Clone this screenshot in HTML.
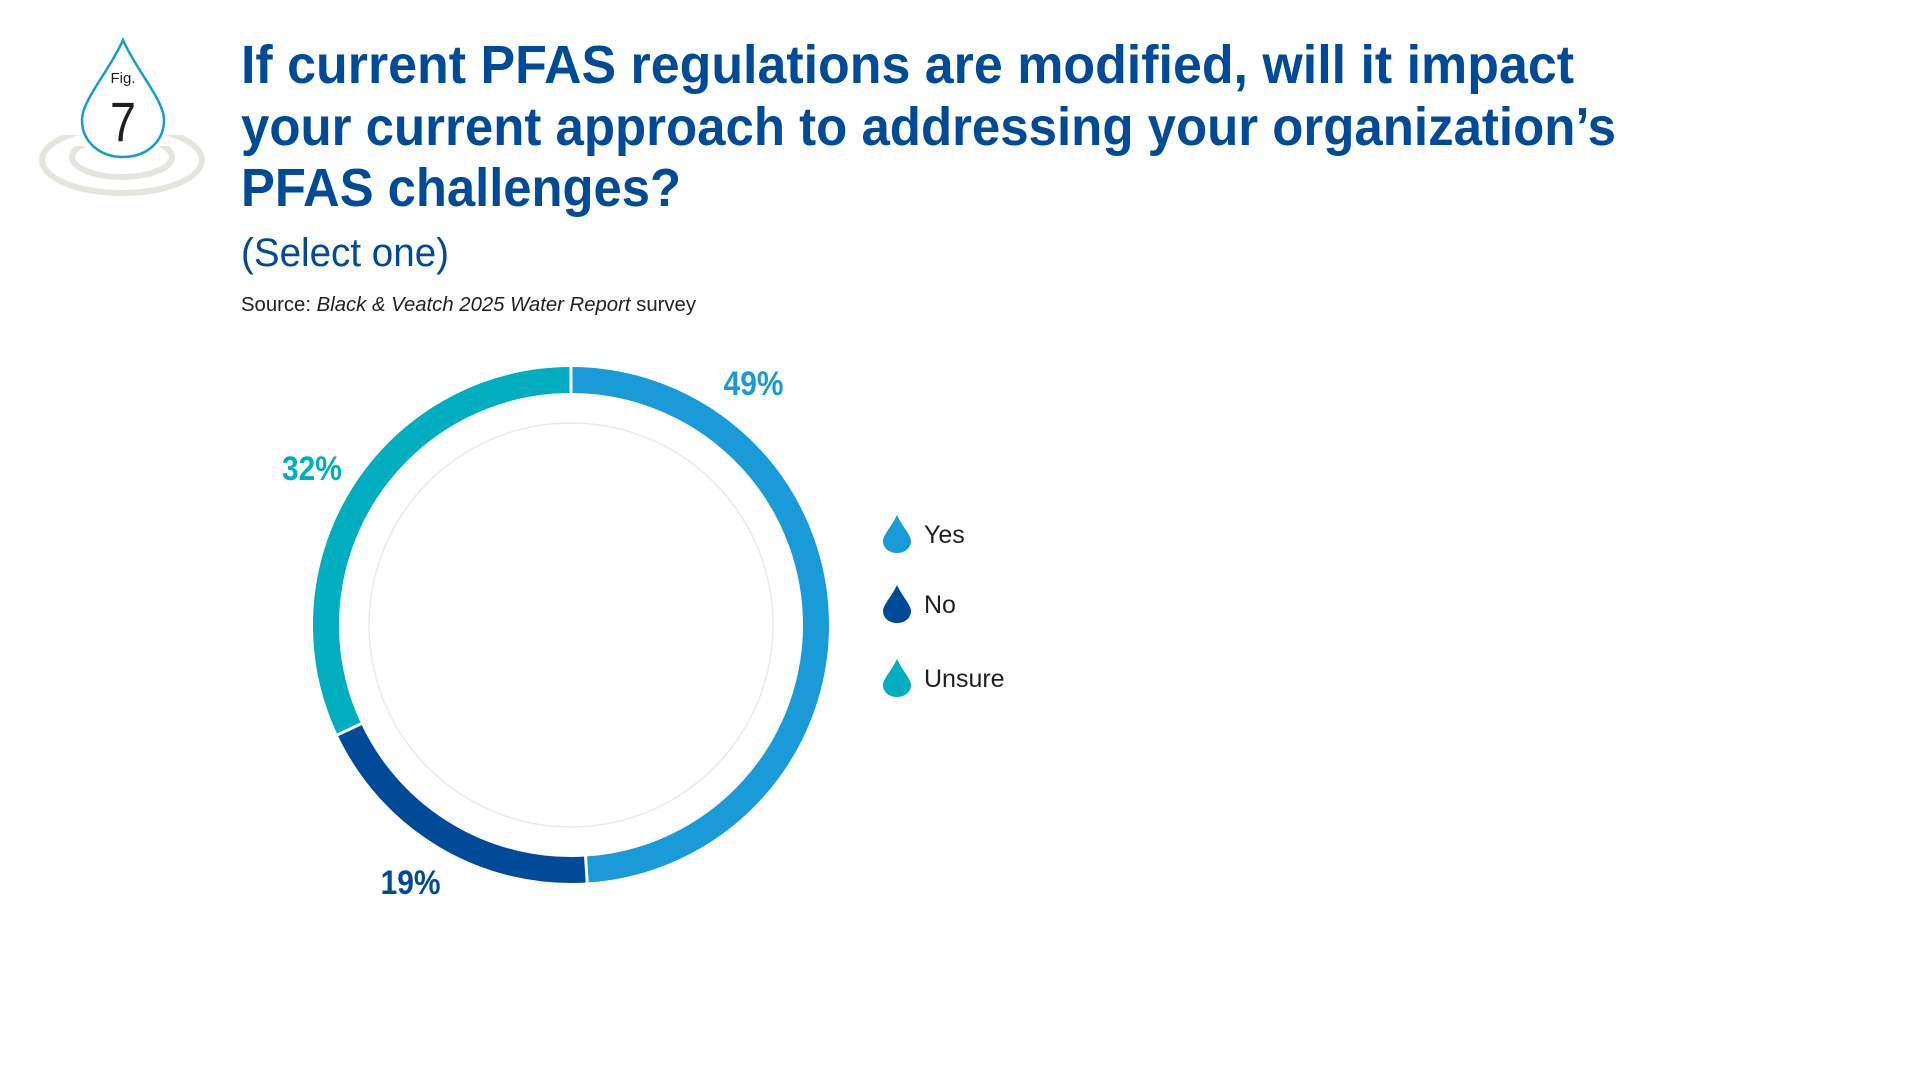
<!DOCTYPE html>
<html><head><meta charset="utf-8"><style>
html,body{margin:0;padding:0;background:#fff;}
svg{display:block;font-family:"Liberation Sans",sans-serif;}
</style></head><body>
<svg width="1920" height="1080" viewBox="0 0 1920 1080">
<defs>
  <clipPath id="clipOuter"><rect x="0" y="135" width="260" height="100"/></clipPath>
  <clipPath id="clipInner"><rect x="0" y="146" width="260" height="100"/></clipPath>
</defs>
<g>
  <ellipse cx="122" cy="160" rx="80" ry="33" fill="none" stroke="#e6e4df" stroke-width="6" clip-path="url(#clipOuter)"/>
  <ellipse cx="122" cy="157" rx="50" ry="20" fill="none" stroke="#e6e4df" stroke-width="6" clip-path="url(#clipInner)"/>
  <path d="M123,40 C110,70 82,100 82,120 C82,142 100,157 123,157 C146,157 164,142 164,120 C164,100 136,70 123,40 Z" fill="#fff" stroke="#1a9ad6" stroke-width="2.5"/>
  <text x="123" y="83" text-anchor="middle" font-size="15" fill="#231f20">Fig.</text>
  <text x="123" y="141" text-anchor="middle" font-size="56" fill="#231f20" textLength="26" lengthAdjust="spacingAndGlyphs">7</text>
</g>
<g fill="#004a97" font-weight="bold" font-size="54">
  <text x="241" y="83" textLength="1333" lengthAdjust="spacingAndGlyphs">If current PFAS regulations are modified, will it impact</text>
  <text x="241" y="145" textLength="1375" lengthAdjust="spacingAndGlyphs">your current approach to addressing your organization’s</text>
  <text x="241" y="206" textLength="440" lengthAdjust="spacingAndGlyphs">PFAS challenges?</text>
</g>
<text x="241" y="266" font-size="40" fill="#004a97" textLength="208" lengthAdjust="spacingAndGlyphs">(Select one)</text>
<text x="241" y="311" font-size="20" fill="#231f20" textLength="455" lengthAdjust="spacingAndGlyphs">Source: <tspan font-style="italic">Black &amp; Veatch 2025 Water Report</tspan> survey</text>
<circle cx="571" cy="625" r="202" fill="none" stroke="#ebe9e6" stroke-width="1.5"/>
<g id="donut"></g>
<g id="legend"></g>
<script>
const categories = ["Yes", "No", "Unsure"];
const values = [49, 19, 32];
const valueLabels = ["49%", "19%", "32%"];
const colors = ["#1a9ad6", "#004a97", "#00aebf"];
const labelFrac = [0.21, 0.52, 0.49];
const NS = "http://www.w3.org/2000/svg";
const cx = 571, cy = 625, rMid = 245, ringW = 26, rLabel = 303;
const total = values.reduce((a, b) => a + b, 0);
const angle = v => v / total * Math.PI * 2;
const pt = (a, r) => [cx + r * Math.sin(a), cy - r * Math.cos(a)];
const donut = document.getElementById("donut");
let acc = 0;
values.forEach((v, i) => {
  const a0 = angle(acc), a1 = angle(acc + v);
  const p0 = pt(a0, rMid), p1 = pt(a1, rMid);
  const large = (a1 - a0) > Math.PI ? 1 : 0;
  const path = document.createElementNS(NS, "path");
  path.setAttribute("d", `M${p0[0]},${p0[1]} A${rMid},${rMid} 0 ${large} 1 ${p1[0]},${p1[1]}`);
  path.setAttribute("fill", "none");
  path.setAttribute("stroke", colors[i]);
  path.setAttribute("stroke-width", ringW);
  
  
  donut.appendChild(path);
  const lp = pt(angle(acc + v * labelFrac[i]), rLabel);
  const t = document.createElementNS(NS, "text");
  t.setAttribute("x", lp[0]);
  t.setAttribute("y", lp[1] + 12);
  t.setAttribute("text-anchor", "middle");
  t.setAttribute("font-size", "34");
  t.setAttribute("font-weight", "bold");
  t.setAttribute("fill", colors[i]);
  t.setAttribute("textLength", "60");
  t.setAttribute("lengthAdjust", "spacingAndGlyphs");
  t.textContent = valueLabels[i];
  
  
  donut.appendChild(t);
  acc += v;
});
acc = 0;
values.forEach((v, i) => {
  const a = angle(acc);
  const p0 = pt(a, rMid - ringW / 2 - 1), p1 = pt(a, rMid + ringW / 2 + 1);
  const l = document.createElementNS(NS, "line");
  l.setAttribute("x1", p0[0]); l.setAttribute("y1", p0[1]);
  l.setAttribute("x2", p1[0]); l.setAttribute("y2", p1[1]);
  l.setAttribute("stroke", "#fff"); l.setAttribute("stroke-width", "3");
  
  
  donut.appendChild(l);
  acc += v;
});
const legend = document.getElementById("legend");
const legendY = [534, 604, 678];
categories.forEach((c, i) => {
  const g = document.createElementNS(NS, "g");
  
  
  const y = legendY[i];
  const d = document.createElementNS(NS, "path");
  d.setAttribute("d", `M897,${y - 19} C892,${y - 8} 883,${y + 1} 883,${y + 7} C883,${y + 14} 889,${y + 19} 897,${y + 19} C905,${y + 19} 911,${y + 14} 911,${y + 7} C911,${y + 1} 902,${y - 8} 897,${y - 19} Z`);
  d.setAttribute("fill", colors[i]);
  
  
  g.appendChild(d);
  const t = document.createElementNS(NS, "text");
  t.setAttribute("x", 924); t.setAttribute("y", y + 9);
  t.setAttribute("font-size", "25"); t.setAttribute("fill", "#231f20");
  t.textContent = c;
  
  
  g.appendChild(t);
  legend.appendChild(g);
});
</script>
</svg>
</body></html>
